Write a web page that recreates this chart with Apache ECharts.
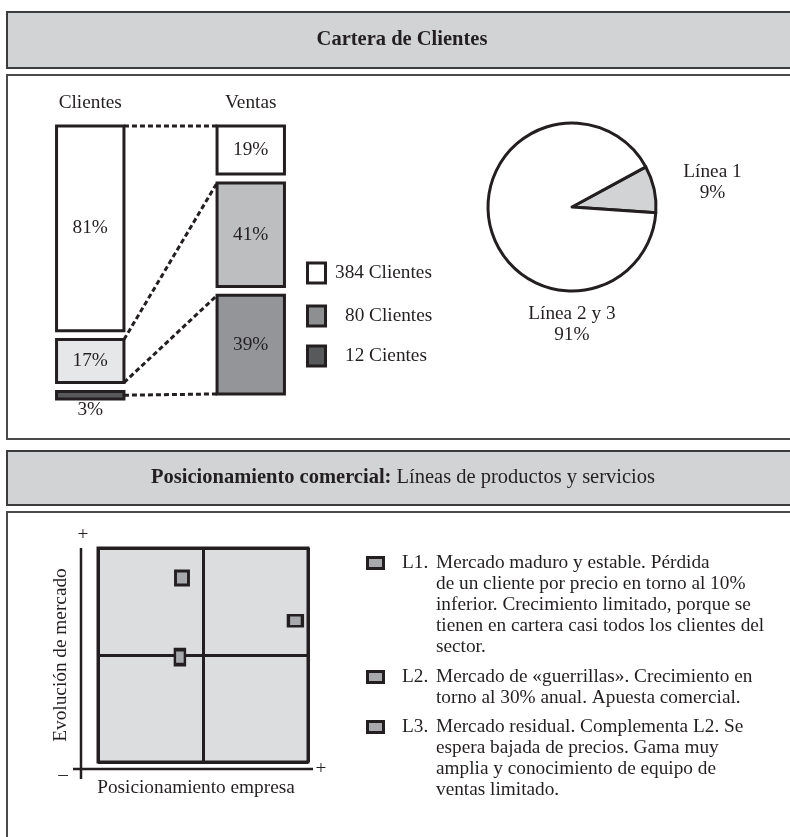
<!DOCTYPE html>
<html>
<head>
<meta charset="utf-8">
<script src="https://cdn.jsdelivr.net/npm/echarts@6/dist/echarts.min.js"></script>
<style>
  html, body { margin: 0; padding: 0; background: #ffffff; }
  #chart { width: 790px; height: 837px; }
</style>
</head>
<body>
<div id="chart"></div>
<script>
// Client portfolio: share of clients and share of sales per client group
const barCategories = ['Clientes', 'Ventas'];
const clientesShare = [81, 17, 3];
const ventasShare = [19, 41, 39];
const clientGroups = ['384 Clientes', '80 Clientes', '12 Cientes'];

// Sales split by product line
const pieNames = ['Línea 1', 'Línea 2 y 3'];
const pieValues = [9, 91];

// Commercial positioning of each product line
const lineNames = ['L1', 'L2', 'L3'];
const positioning = [94, 40, 39];
const marketEvolution = [66, 86, 49];
const lineNotes = [
  'Mercado maduro y estable. Pérdida\nde un cliente por precio en torno al 10%\ninferior. Crecimiento limitado, porque se\ntienen en cartera casi todos los clientes del\nsector.',
  'Mercado de «guerrillas». Crecimiento en\ntorno al 30% anual. Apuesta comercial.',
  'Mercado residual. Complementa L2. Se\nespera bajada de precios. Gama muy\namplia y conocimiento de equipo de\nventas limitado.'
];
const quadrantAxisNames = ['Posicionamiento empresa', 'Evolución de mercado'];

// ---- styling ----
const SERIF = "'Liberation Serif', 'Times New Roman', serif";
const INK = '#231f20';
const FS = 19.3;
const HEAD_FS = 20.5;
const segmentColors = [
  ['#ffffff', '#e6e7e8', '#58595b'],
  ['#ffffff', '#bcbec0', '#939598']
];
const groupColors = ['#ffffff', '#8e8f91', '#58595b'];
const pieColors = ['#d1d3d4', '#ffffff'];
const markerSizes = [[14, 11], [13, 14], [10, 15]];
const GAP = 3.5;          // vertical gap between stacked blocks, in axis units
const BAR_RATIO = 0.42;   // block width relative to the category band

// stacked block boundaries (start, end) for a column
function bounds(shares) {
  const out = [];
  let pos = 0;
  shares.forEach((v, i) => {
    out.push([pos, pos + v]);
    pos += v + (i < shares.length - 1 ? GAP : 0);
  });
  return out;
}
const columns = [clientesShare, ventasShare];
const columnBounds = columns.map(bounds);
const yMax = Math.max(...columnBounds.map(b => b[b.length - 1][1]));

const segmentData = [];
columns.forEach((shares, ci) => {
  shares.forEach((v, si) => {
    segmentData.push([ci, columnBounds[ci][si][0], columnBounds[ci][si][1], v, si]);
  });
});

const cb = columnBounds[0], vb = columnBounds[1];
const connectorData = [
  [0, cb[0][0], 1, vb[0][0]],
  [0, cb[1][0], 1, vb[1][0]],
  [0, cb[1][1], 1, vb[2][0]],
  [0, (cb[2][0] + cb[2][1]) / 2, 1, vb[2][1]]
];

function renderSegment(params, api) {
  const ci = api.value(0);
  const top = api.coord([ci, api.value(1)]);
  const bot = api.coord([ci, api.value(2)]);
  const pct = api.value(3);
  const si = api.value(4);
  const w = api.size([1, 0])[0] * BAR_RATIO;
  const h = bot[1] - top[1];
  return {
    type: 'rect',
    shape: { x: top[0] - w / 2, y: top[1], width: w, height: h },
    style: { fill: segmentColors[ci][si], stroke: INK, lineWidth: 3 },
    textContent: {
      style: { text: pct + '%', fontFamily: SERIF, fontSize: FS, fill: INK }
    },
    textConfig: { position: h < 24 ? 'bottom' : 'inside', distance: 0 }
  };
}

function renderConnector(params, api) {
  const w = api.size([1, 0])[0] * BAR_RATIO;
  const a = api.coord([api.value(0), api.value(1)]);
  const b = api.coord([api.value(2), api.value(3)]);
  return {
    type: 'line',
    shape: { x1: a[0] + w / 2, y1: a[1], x2: b[0] - w / 2, y2: b[1] },
    style: { stroke: INK, lineWidth: 3, lineDash: [5, 3] }
  };
}

// ---- frame, headers and text blocks ----
const graphic = [
  { type: 'rect', z: 0, shape: { x: 7, y: 12, width: 800, height: 56 },
    style: { fill: '#d1d3d4', stroke: '#3c3c3c', lineWidth: 2 } },
  { type: 'rect', z: 0, shape: { x: 7, y: 75, width: 800, height: 364 },
    style: { fill: 'none', stroke: '#4a4a4a', lineWidth: 2 } },
  { type: 'rect', z: 0, shape: { x: 7, y: 451, width: 800, height: 54 },
    style: { fill: '#d1d3d4', stroke: '#3c3c3c', lineWidth: 2 } },
  { type: 'rect', z: 0, shape: { x: 7, y: 512, width: 800, height: 400 },
    style: { fill: 'none', stroke: '#4a4a4a', lineWidth: 2 } },
  { type: 'text', z: 5, x: 402, y: 40,
    style: { text: 'Cartera de Clientes', fontFamily: SERIF, fontSize: HEAD_FS, fontWeight: 'bold',
             fill: INK, align: 'center', verticalAlign: 'middle' } },
  { type: 'text', z: 5, x: 403, y: 478,
    style: { text: '{b|Posicionamiento comercial:} Líneas de productos y servicios',
             fontFamily: SERIF, fontSize: HEAD_FS, fill: INK, align: 'center', verticalAlign: 'middle',
             rich: { b: { fontFamily: SERIF, fontSize: HEAD_FS, fontWeight: 'bold', fill: INK } } } },
  // quadrant axes
  { type: 'line', z: 5, shape: { x1: 81, y1: 548, x2: 81, y2: 779 }, style: { stroke: INK, lineWidth: 2.5 } },
  { type: 'line', z: 5, shape: { x1: 73, y1: 769, x2: 313, y2: 769 }, style: { stroke: INK, lineWidth: 2.5 } },
  { type: 'text', z: 5, x: 83, y: 535,
    style: { text: '+', fontFamily: SERIF, fontSize: FS, fill: INK, align: 'center', verticalAlign: 'middle' } },
  { type: 'text', z: 5, x: 321, y: 769,
    style: { text: '+', fontFamily: SERIF, fontSize: FS, fill: INK, align: 'center', verticalAlign: 'middle' } },
  { type: 'text', z: 5, x: 63, y: 775,
    style: { text: '\u2013', fontFamily: SERIF, fontSize: FS, fill: INK, align: 'center', verticalAlign: 'middle' } }
];

// client group legend
const groupRows = [273, 316, 356];
const groupTextX = [335, 345, 345];
clientGroups.forEach((name, i) => {
  graphic.push({ type: 'rect', z: 5, shape: { x: 307.5, y: groupRows[i] - 10, width: 18, height: 20 },
    style: { fill: groupColors[i], stroke: INK, lineWidth: 3 } });
  graphic.push({ type: 'text', z: 5, x: groupTextX[i], y: groupRows[i],
    style: { text: name, fontFamily: SERIF, fontSize: FS, fill: INK, verticalAlign: 'middle' } });
});

// product line notes
const noteRows = [563, 677, 727];
lineNames.forEach((name, i) => {
  graphic.push({ type: 'rect', z: 5, shape: { x: 367.5, y: noteRows[i] - 5.5, width: 16, height: 11 },
    style: { fill: '#a7a9ac', stroke: INK, lineWidth: 3 } });
  graphic.push({ type: 'text', z: 5, x: 402, y: noteRows[i],
    style: { text: name + '.', fontFamily: SERIF, fontSize: FS, fill: INK, verticalAlign: 'middle' } });
  graphic.push({ type: 'text', z: 5, x: 436, y: noteRows[i] - 10.5,
    style: { text: lineNotes[i], fontFamily: SERIF, fontSize: FS, lineHeight: 21, fill: INK, verticalAlign: 'top' } });
});

const chart = echarts.init(document.getElementById('chart'), null, { renderer: 'canvas' });

chart.setOption({
  backgroundColor: '#ffffff',
  animation: false,
  textStyle: { fontFamily: SERIF, color: INK },
  graphic: graphic,
  grid: [
    { left: 10, top: 126, width: 321, height: 273 },
    { left: 98, top: 548, width: 210, height: 214, show: true,
      backgroundColor: '#dcdddf', borderColor: INK, borderWidth: 3 }
  ],
  xAxis: [
    { gridIndex: 0, type: 'category', data: barCategories, position: 'top',
      axisLine: { show: false }, axisTick: { show: false }, splitLine: { show: false },
      axisLabel: { fontFamily: SERIF, fontSize: FS, color: INK, margin: 14 } },
    { gridIndex: 1, type: 'value', min: 0, max: 100, interval: 50,
      axisLine: { show: false }, axisTick: { show: false }, axisLabel: { show: false },
      splitLine: { show: true, lineStyle: { color: INK, width: 3 } },
      name: quadrantAxisNames[0], nameLocation: 'middle', nameGap: 16,
      nameTextStyle: { fontFamily: SERIF, fontSize: FS, color: INK, padding: [0, 14, 0, 0] } }
  ],
  yAxis: [
    { gridIndex: 0, type: 'value', min: 0, max: yMax, inverse: true, show: false },
    { gridIndex: 1, type: 'value', min: 0, max: 100, interval: 50,
      axisLine: { show: false }, axisTick: { show: false }, axisLabel: { show: false },
      splitLine: { show: true, lineStyle: { color: INK, width: 3 } },
      name: quadrantAxisNames[1], nameLocation: 'middle', nameGap: 28,
      nameTextStyle: { fontFamily: SERIF, fontSize: FS, color: INK } }
  ],
  series: [
    { type: 'custom', name: 'conectores', xAxisIndex: 0, yAxisIndex: 0, z: 2,
      renderItem: renderConnector, data: connectorData, silent: true },
    { type: 'custom', name: 'cartera', xAxisIndex: 0, yAxisIndex: 0, z: 3,
      renderItem: renderSegment, data: segmentData, silent: true },
    { type: 'pie', name: 'líneas', center: [572, 207], radius: 84, startAngle: 28.5,
      clockwise: true, avoidLabelOverlap: false, silent: true,
      data: pieNames.map((n, i) => ({ name: n, value: pieValues[i], itemStyle: { color: pieColors[i] } })),
      itemStyle: { borderColor: INK, borderWidth: 3 },
      label: { show: true, position: 'outside', formatter: '{b}\n{c}%',
               fontFamily: SERIF, fontSize: FS, lineHeight: 21, color: INK },
      labelLine: { show: false },
      labelLayout: function (p) {
        if (p.dataIndex === 0) {
          return { x: p.rect.x + p.rect.width + 55, y: p.rect.y + 17, align: 'center', verticalAlign: 'middle' };
        }
        return { x: p.rect.x + p.rect.width / 2, y: p.rect.y + p.rect.height + 11, align: 'center', verticalAlign: 'top' };
      }
    },
    { type: 'scatter', name: 'posicionamiento', xAxisIndex: 1, yAxisIndex: 1, z: 4, silent: true,
      symbol: 'rect',
      symbolSize: function (val, params) { return markerSizes[params.dataIndex]; },
      data: lineNames.map((n, i) => ({ name: n, value: [positioning[i], marketEvolution[i]] })),
      itemStyle: { color: '#a7a9ac', borderColor: INK, borderWidth: 3, opacity: 1 } }
  ]
});
</script>
</body>
</html>
